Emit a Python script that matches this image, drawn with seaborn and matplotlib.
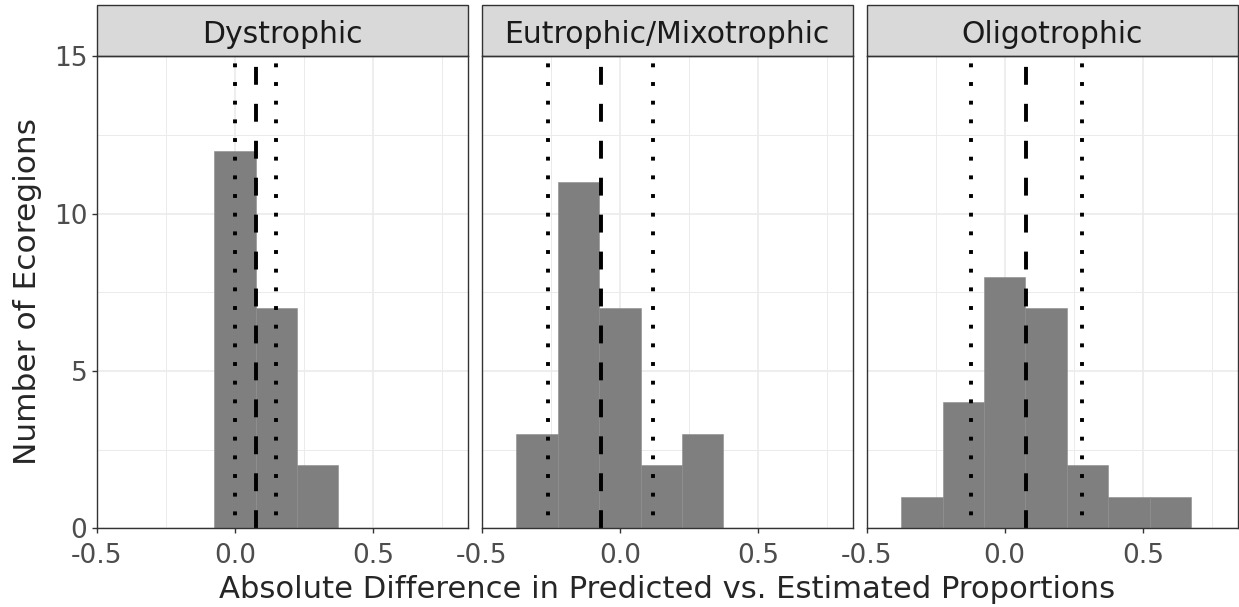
import numpy as np
import pandas as pd
import seaborn as sns
import matplotlib.pyplot as plt
from matplotlib.patches import Rectangle
from matplotlib.ticker import MultipleLocator

# histogram bins (centres) and counts
groups = ["Dystrophic", "Eutrophic/Mixotrophic", "Oligotrophic"]
dys_centers = [0.0, 0.15, 0.30]
dys_counts = [12, 7, 2]
eut_centers = [-0.30, -0.15, 0.0, 0.15, 0.30]
eut_counts = [3, 11, 7, 2, 3]
oli_centers = [-0.30, -0.15, 0.0, 0.15, 0.30, 0.45, 0.60]
oli_counts = [1, 4, 8, 7, 2, 1, 1]

# mean (dashed) and interval (dotted) per group
means = [0.077, -0.068, 0.078]
lower = [0.002, -0.259, -0.121]
upper = [0.149, 0.121, 0.279]

df = pd.concat([
    pd.DataFrame({"group": g, "diff": c, "n": n})
    for g, c, n in zip(groups, [dys_centers, eut_centers, oli_centers],
                       [dys_counts, eut_counts, oli_counts])
])

sns.set_theme(style="whitegrid")
plt.rcParams['font.family'] = ['DejaVu Sans']
plt.rcParams['axes.unicode_minus'] = False

fig, axes = plt.subplots(1, 3, figsize=(12.39, 6.07), dpi=100, sharey=True)
fig.subplots_adjust(left=0.078, right=0.999, top=0.907, bottom=0.1297, wspace=0.037)

LW = 2.8
for i, (ax, g) in enumerate(zip(axes, groups)):
    sub = df[df["group"] == g]
    sns.histplot(data=sub, x="diff", weights="n", binwidth=0.15, binrange=(-0.375, 0.675),
                 color="#7f7f7f", alpha=1, edgecolor="#8c8c8c", linewidth=0.4, ax=ax)
    tr = ax.get_xaxis_transform()
    # drawn top -> bottom so the dash phase starts at the strip
    ax.plot([means[i], means[i]], [1, 0], transform=tr, color="black", lw=LW,
            linestyle=(6.7, (4.6, 4.9)), solid_capstyle="butt", dash_capstyle="butt")
    for v in (lower[i], upper[i]):
        ax.plot([v, v], [1, 0], transform=tr, color="black", lw=LW,
                linestyle=(2.9, (1.0, 3.8)), dash_capstyle="butt")

    ax.set_xlim(-0.5, 0.843)
    ax.set_ylim(0, 15)
    ax.xaxis.set_minor_locator(MultipleLocator(0.25))
    ax.yaxis.set_minor_locator(MultipleLocator(2.5))
    ax.set_xticks([-0.5, 0.0, 0.5])
    ax.set_xticklabels(["-0.5", "0.0", "0.5"])
    ax.set_yticks([0, 5, 10, 15])
    ax.grid(which="major", color="#ebebeb", lw=1.2)
    ax.grid(which="minor", color="#ebebeb", lw=0.7)
    ax.set_axisbelow(True)
    for s in ax.spines.values():
        s.set_color("#333333")
        s.set_linewidth(1.0)
    ax.tick_params(axis="x", which="major", bottom=True, length=3.6, width=1, color="#333333",
                   labelsize=19, labelcolor="#4d4d4d", pad=7)
    ax.tick_params(axis="y", which="major", left=(i == 0), length=3.6, width=1, color="#333333",
                   labelsize=19, labelcolor="#4d4d4d", pad=3, labelleft=(i == 0))
    ax.tick_params(which="minor", length=0)
    ax.set_xlabel("")
    ax.set_ylabel("")

    # facet strip
    ax.add_patch(Rectangle((0, 1), 1, 0.108, transform=ax.transAxes, clip_on=False,
                           facecolor="#d9d9d9", edgecolor="#333333", lw=1.0))
    ax.text(0.5, 1.028, g, transform=ax.transAxes, ha="center", va="baseline",
            fontsize=21.5, color="#1a1a1a")

axes[0].set_yticklabels(["0", "5", "10", "15"])

fig.text(0.538, 0.015, "Absolute Difference in Predicted vs. Estimated Proportions",
         ha="center", va="baseline", fontsize=22.1)
fig.text(0.022, 0.519, "Number of Ecoregions", ha="center", va="center",
         rotation=90, fontsize=22.5)

fig.savefig("out.png", dpi=100)
